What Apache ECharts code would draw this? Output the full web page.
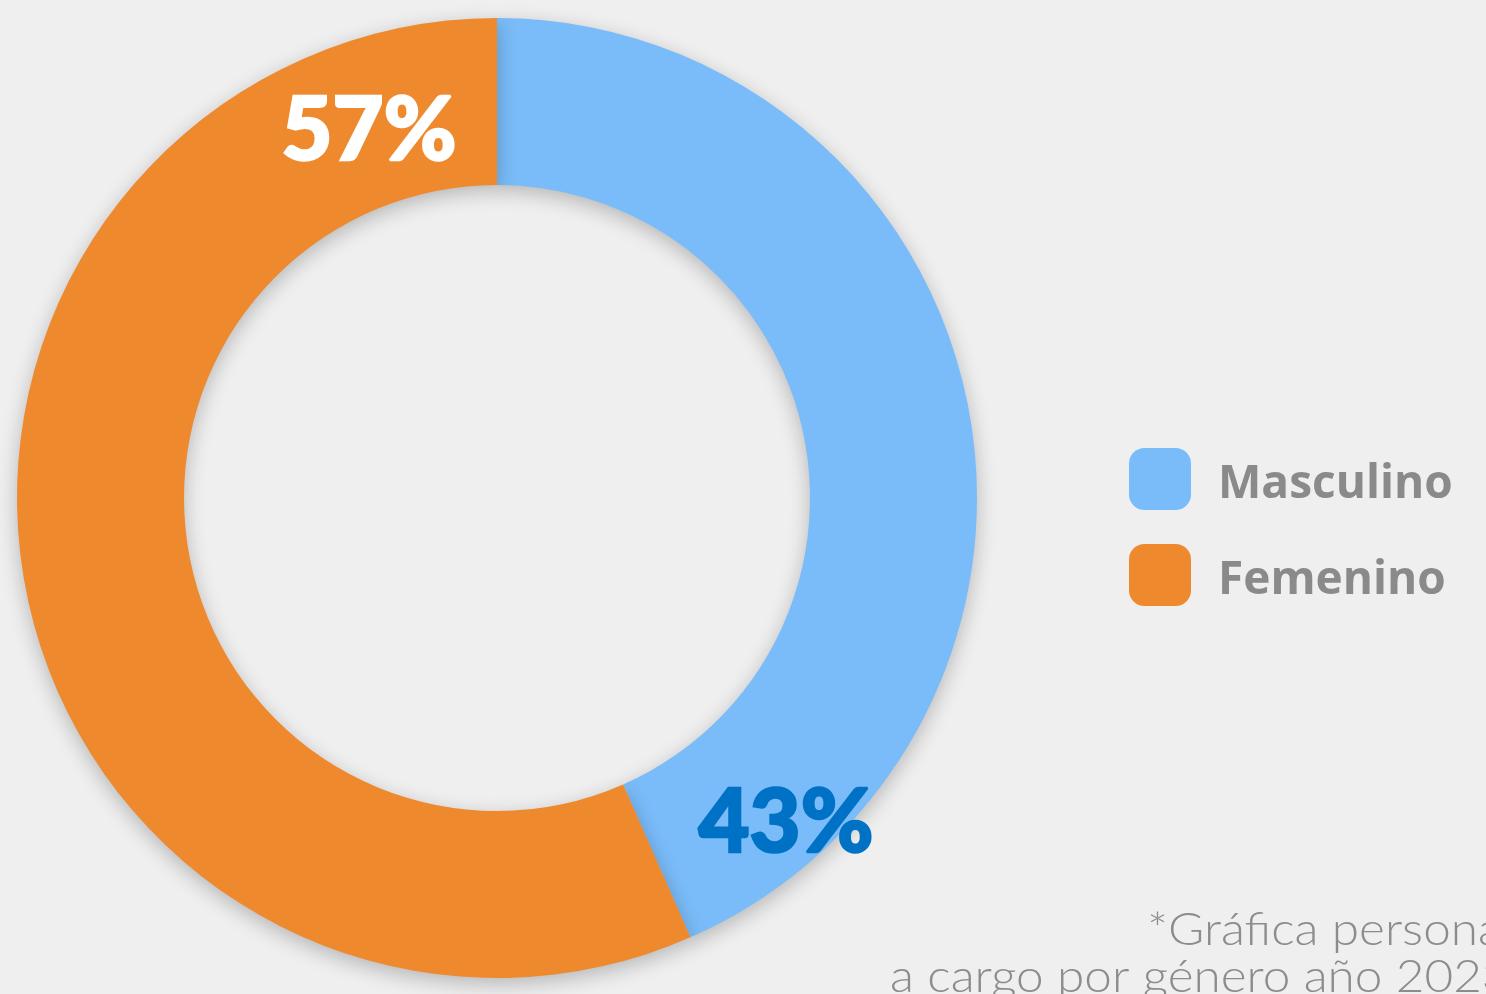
<!DOCTYPE html>
<html>
<head>
<meta charset="utf-8">
<script src="https://cdn.jsdelivr.net/npm/echarts@6/dist/echarts.min.js"></script>
<style>
  html, body { margin: 0; padding: 0; background: #efefef; }
  #chart { width: 1486px; height: 994px; }
</style>
</head>
<body>
<div id="chart"></div>
<script>
const categories = ['Masculino', 'Femenino'];
const shares = [43.4, 56.6];
const colors = ['#7abcf9', '#ee892e'];
const labelColors = ['#0072c6', '#ffffff'];
const noteLines = ['*Gráfica personas', 'a cargo por género año 2023'];

const chart = echarts.init(document.getElementById('chart'));

// label spots (not the default mid-ring place)
const labelSpots = [[786, 824], [369, 132]];

chart.setOption({
  backgroundColor: '#efefef',
  animation: false,
  legend: {
    orient: 'vertical',
    left: 1129,
    top: 448,
    padding: 0,
    itemWidth: 62,
    itemHeight: 62,
    itemGap: 34,
    icon: 'roundRect',
    data: categories,
    formatter: name => '{n|' + name + '}',
    textStyle: {
      rich: {
        n: { color: '#8a8a8a', fontSize: 46, fontWeight: 'bold', fontFamily: 'Open Sans', padding: [12, 0, 0, 22] }
      }
    }
  },
  graphic: noteLines.map((t, i) => ({
    type: 'text',
    x: i === 0 ? 1147 : 890,
    y: i === 0 ? 907 : 954,
    scaleX: 1.075,
    style: { text: t, fill: '#8c8c8c', font: '300 46px Lato' }
  })),
  series: [{
    type: 'pie',
    center: [497, 498],
    radius: [313, 480],
    startAngle: 90,
    clockwise: true,
    silent: true,
    itemStyle: { shadowBlur: 20, shadowOffsetY: 6, shadowColor: 'rgba(0,0,0,0.24)' },
    label: {
      show: true,
      position: 'inside',
      formatter: p => Math.round(p.percent) + '%',
      fontFamily: 'Lato',
      fontWeight: 900,
      fontSize: 88,
      textBorderWidth: 2.5
    },
    labelLine: { show: false },
    labelLayout: p => ({ x: labelSpots[p.dataIndex][0], y: labelSpots[p.dataIndex][1], align: 'center', verticalAlign: 'middle' }),
    data: categories.map((name, i) => ({
      name,
      value: shares[i],
      itemStyle: { color: colors[i] },
      label: { color: labelColors[i], textBorderColor: labelColors[i] }
    }))
  }]
});
</script>
</body>
</html>
